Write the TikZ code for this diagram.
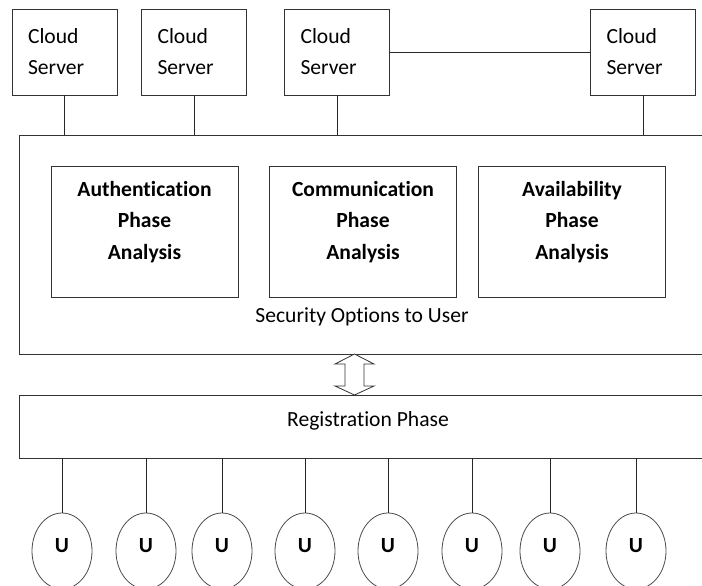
\documentclass[tikz,border=0pt]{standalone}
\usepackage{fontspec}
\setmainfont[Ligatures=NoCommon]{Carlito}
\usetikzlibrary{positioning, shapes.geometric}

\begin{document}
\begin{tikzpicture}[x=0.035cm, y=-0.035cm, line width=0.8pt,
		font=\fontsize{21.5}{31}\selectfont,
		serverbox/.style={rectangle,draw=black!80,minimum width=3.675cm,minimum height=3.01cm,
			text width=2.555cm,inner xsep=0.56cm,align=left},
		phasebox/.style={rectangle,draw=black!80,minimum width=6.545cm,minimum height=4.585cm},
		phasetext/.style={align=center,font=\fontsize{21.5}{31}\selectfont\bfseries},
		wideblock/.style={rectangle,draw=black!80,minimum width=24.5cm},
		userbox/.style={ellipse,draw=black!70,minimum width=2.1cm,minimum height=2.66cm,
			text height=0.49cm,text depth=0.42cm,
			font=\fontsize{21.5}{31}\selectfont\bfseries},
		link/.style={draw=black!85}
		]
		\clip (0,0) rectangle (702,586);
		
		% cloud servers
		\node[serverbox](CS1) at (64.5,52){Cloud\\Server};
		\node[serverbox](CS2) at (194,52){Cloud\\Server};
		\node[serverbox](CS3) at (337,52){Cloud\\Server};
		\node[serverbox](CS4) at (643,52){Cloud\\Server};
		\draw[link] (CS3) -- (CS4);
		
		% security block
		\node[wideblock, minimum height=7.665cm](SEC) at (369.5,244.5){};
		\foreach \s in {CS1,CS2,CS3,CS4}
			\draw[link] (\s.south) -- (\s.south |- SEC.north);
		\node[phasebox](AUTH) at (144.5,231.5){};
		\node[phasetext] at (144.5,222){Authentication\\Phase\\Analysis};
		\node[phasebox](COMM) at (363,231.5){};
		\node[phasetext] at (363,222){Communication\\Phase\\Analysis};
		\node[phasebox](AVAIL) at (572,231.5){};
		\node[phasetext] at (572,222){Availability\\Phase\\Analysis};
		\node(SECTXT) at (362,317){Security Options to User};
		
		% registration
		\node[wideblock, minimum height=2.205cm](REG) at (369.5,426.5){};
		\node(REGTXT) at (368,421){Registration Phase};
		
		% two way arrow
		\draw[draw=black!80, fill=white] (354.5,354) -- (374,364) -- (364,364) -- (364,386)
			-- (374,386) -- (354.5,395) -- (335,386) -- (345,386) -- (345,364)
			-- (335,364) -- cycle;
		
		% users
		\foreach \x [count=\i] in {62,146,222,305,388,472,550,636}{
			\node[userbox](U\i) at (\x,551){U};
			\draw[link] (U\i.north) -- (U\i.north |- REG.south);
		}
	\end{tikzpicture}
\end{document}
